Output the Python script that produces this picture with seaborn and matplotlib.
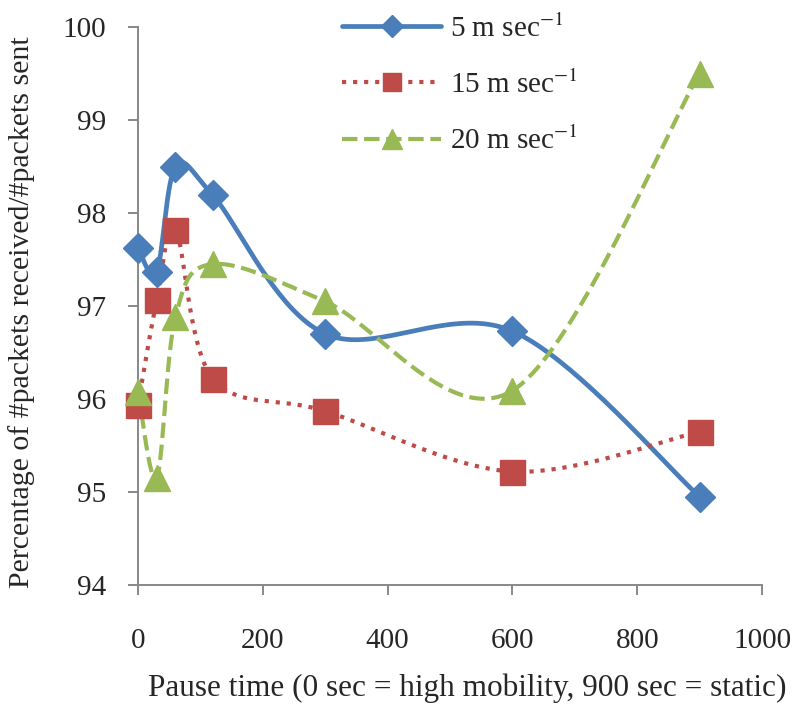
import numpy as np
import pandas as pd
import matplotlib
matplotlib.use("Agg")
import matplotlib.pyplot as plt
from matplotlib.lines import Line2D
import seaborn as sns

sns.set_style("white")
plt.rcParams['font.family'] = ['Liberation Serif', 'DejaVu Serif']
plt.rcParams['mathtext.fontset'] = 'stix'

# data
pause_time = [0, 30, 60, 120, 300, 600, 900]
speed_5 = [97.62, 97.37, 98.49, 98.19, 96.70, 96.73, 94.95]
speed_15 = [95.94, 97.06, 97.82, 96.22, 95.87, 95.22, 95.65]
speed_20 = [96.08, 95.15, 96.88, 97.45, 97.05, 96.09, 99.50]

labels = [r'5 m sec$^{-1}$', r'15 m sec$^{-1}$', r'20 m sec$^{-1}$']
colors = ['#4A7EBB', '#BE4B48', '#98B954']
styles = ['-', ':', '--']
markers = ['D', 's', '^']
msizes = [15, 18, 19]


def smooth(x, y, n=40):
    # Excel-like smoothed line: Catmull-Rom as cubic Bezier segments
    p = np.column_stack([x, y]).astype(float)
    p = np.vstack([p[0], p, p[-1]])
    out = []
    t = np.linspace(0, 1, n)[:, None]
    for i in range(1, len(p) - 2):
        b0 = p[i]
        b3 = p[i + 1]
        b1 = b0 + (p[i + 1] - p[i - 1]) / 6
        b2 = b3 - (p[i + 2] - p[i]) / 6
        seg = ((1 - t) ** 3) * b0 + 3 * ((1 - t) ** 2) * t * b1 + 3 * (1 - t) * t ** 2 * b2 + t ** 3 * b3
        out.append(seg)
    out = np.vstack(out)
    return out[:, 0], out[:, 1]


fig = plt.figure(figsize=(7.97, 7.09), dpi=100)
ax = fig.add_axes([138 / 797, 1 - 585 / 709, 624 / 797, 558 / 709])

handles = []
for ys, lab, c, ls, m, ms in zip([speed_5, speed_15, speed_20], labels, colors, styles, markers, msizes):
    # scale x to pixel-like aspect so the spline looks like the screen one
    sx, sy = smooth(np.array(pause_time) * 0.624, np.array(ys) * 93)
    curve = pd.DataFrame({'x': sx / 0.624, 'y': sy / 93})
    lw = 3.4 if ls == '-' else 3.0
    sns.lineplot(data=curve, x='x', y='y', sort=False, color=c, linestyle=ls, linewidth=lw, ax=ax)
    ax.plot(pause_time, ys, linestyle='none', marker=m, markersize=ms, color=c, zorder=3, clip_on=False)
    handles.append(Line2D([], [], color=c, linestyle=ls, linewidth=lw, marker=m, markersize=ms * 0.75))

ax.set_xlim(0, 1000)
ax.set_ylim(94, 100)
ax.set_xticks(range(0, 1001, 200))
ax.set_yticks(range(94, 101))
ax.tick_params(axis='both', direction='out', length=7, width=1.4, color='#888888', labelsize=21, left=True, bottom=True)
ax.tick_params(axis='x', pad=24)
ax.tick_params(axis='y', pad=16)
for s in ['top', 'right']:
    ax.spines[s].set_visible(False)
for s in ['left', 'bottom']:
    ax.spines[s].set_color('#888888')
    ax.spines[s].set_linewidth(1.4)

ax.set_xlabel('Pause time (0 sec = high mobility, 900 sec = static)', fontsize=22.5)
ax.set_ylabel('Percentage of #packets received/#packets sent', fontsize=21.5)
ax.xaxis.set_label_coords(0.527, -0.158)
ax.yaxis.set_label_coords(-0.165, 0.489)

ax.legend(handles=handles, labels=labels, loc='upper left', bbox_to_anchor=(0.285, 1.07),
          frameon=False, fontsize=21, handlelength=3.4, labelspacing=0.95, handletextpad=0.3)

fig.savefig('out.png', dpi=100)
